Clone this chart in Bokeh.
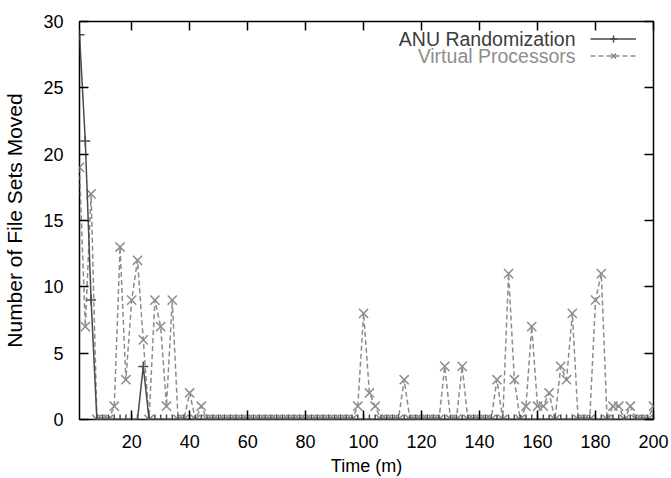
from bokeh.plotting import figure
from bokeh.models import (Range1d, LinearAxis, SingleIntervalTicker, Legend,
                          LegendItem, Label, ColumnDataSource)
from bokeh.embed import file_html
from bokeh.resources import INLINE

# ---- data ----
time_min = [2, 4, 6, 8, 10, 12, 14, 16, 18, 20, 22, 24, 26, 28, 30, 32, 34, 36, 38, 40,
            42, 44, 46, 48, 50, 52, 54, 56, 58, 60, 62, 64, 66, 68, 70, 72, 74, 76, 78, 80,
            82, 84, 86, 88, 90, 92, 94, 96, 98, 100, 102, 104, 106, 108, 110, 112, 114, 116, 118, 120,
            122, 124, 126, 128, 130, 132, 134, 136, 138, 140, 142, 144, 146, 148, 150, 152, 154, 156, 158, 160,
            162, 164, 166, 168, 170, 172, 174, 176, 178, 180, 182, 184, 186, 188, 190, 192, 194, 196, 198, 200]

anu_randomization = [29, 21, 9, 0, 0, 0, 0, 0, 0, 0, 0, 4, 0, 0, 0, 0, 0, 0, 0, 0,
                     0, 0, 0, 0, 0, 0, 0, 0, 0, 0, 0, 0, 0, 0, 0, 0, 0, 0, 0, 0,
                     0, 0, 0, 0, 0, 0, 0, 0, 0, 0, 0, 0, 0, 0, 0, 0, 0, 0, 0, 0,
                     0, 0, 0, 0, 0, 0, 0, 0, 0, 0, 0, 0, 0, 0, 0, 0, 0, 0, 0, 0,
                     0, 0, 0, 0, 0, 0, 0, 0, 0, 0, 0, 0, 0, 0, 0, 0, 0, 0, 0, 0]

virtual_processors = [19, 7, 17, 0, 0, 0, 1, 13, 3, 9, 12, 6, 0, 9, 7, 1, 9, 0, 0, 2,
                      0, 1, 0, 0, 0, 0, 0, 0, 0, 0, 0, 0, 0, 0, 0, 0, 0, 0, 0, 0,
                      0, 0, 0, 0, 0, 0, 0, 0, 1, 8, 2, 1, 0, 0, 0, 0, 3, 0, 0, 0,
                      0, 0, 0, 4, 0, 0, 4, 0, 0, 0, 0, 0, 3, 0, 11, 3, 0, 1, 7, 1,
                      1, 2, 0, 4, 3, 8, 0, 0, 0, 9, 11, 0, 1, 1, 0, 1, 0, 0, 0, 1]

series_names = ["ANU Randomization", "Virtual Processors"]
x_title = "Time (m)"
y_title = "Number of File Sets Moved"

# ---- styles ----
FONT = "Liberation Sans"
FS = "18px"
YT_FS = "21px"
LEG_FS = "19.5px"
ANU_COLOR = "#4a4a4a"
VP_COLOR = "#8c8c8c"
ANU_TEXT = "#3c3c3c"
VP_TEXT = "#8e8e8e"

W, H = 671, 478
p = figure(width=W, height=H, output_backend="svg", toolbar_location=None,
           x_range=Range1d(2, 200), y_range=Range1d(0, 30),
           min_border_left=74, min_border_right=18, min_border_top=21, min_border_bottom=58)
p.xgrid.visible = False
p.ygrid.visible = False
p.outline_line_color = "black"
p.outline_line_width = 1.5
p.background_fill_color = "white"
p.border_fill_color = "white"

xt = SingleIntervalTicker(interval=20)
yt = SingleIntervalTicker(interval=5)
p.xaxis.ticker = xt
p.yaxis.ticker = yt

for ax in (p.xaxis[0], p.yaxis[0]):
    ax.axis_line_color = None
    ax.major_tick_in = 9
    ax.major_tick_out = 0
    ax.major_tick_line_color = "black"
    ax.major_tick_line_width = 1.5
    ax.minor_tick_line_color = None
    ax.major_label_text_font = FONT
    ax.major_label_text_font_size = FS
    ax.major_label_text_color = "black"
    ax.axis_label_text_font = FONT
    ax.axis_label_text_font_size = FS
    ax.axis_label_text_font_style = "normal"
    ax.axis_label_text_color = "black"

p.xaxis.axis_label = x_title
p.yaxis.axis_label = y_title
p.yaxis.axis_label_text_font_size = YT_FS
p.xaxis.major_label_standoff = 11
p.xaxis.axis_label_standoff = 5
p.yaxis.major_label_standoff = 12
p.yaxis.axis_label_standoff = 14

for loc, tk in (("above", xt), ("right", yt)):
    ax = LinearAxis(ticker=tk, axis_line_color=None, major_tick_in=9, major_tick_out=0,
                    major_tick_line_color="black", major_tick_line_width=1.5,
                    minor_tick_line_color=None, major_label_text_font_size="0px",
                    major_label_standoff=0)
    p.add_layout(ax, loc)

src = ColumnDataSource(dict(t=time_min, anu=anu_randomization, vp=virtual_processors))

vp_line = p.line("t", "vp", source=src, line_color=VP_COLOR, line_width=1.5, line_dash="5 3")
vp_pts = p.scatter("t", "vp", source=src, marker="x", size=13, line_color=VP_COLOR, line_width=1.5)
anu_line = p.line("t", "anu", source=src, line_color=ANU_COLOR, line_width=1.5)
anu_pts = p.scatter("t", "anu", source=src, marker="cross", size=10, line_color=ANU_COLOR, line_width=1.5)

# legend: gnuplot style (text right-aligned, sample on the right)
legend = Legend(items=[LegendItem(label="", renderers=[anu_line, anu_pts]),
                       LegendItem(label="", renderers=[vp_line, vp_pts])],
                location=(511, 355), orientation="vertical",
                glyph_width=46, glyph_height=17, label_height=17, label_width=0,
                label_standoff=0, spacing=0, padding=0, margin=0,
                label_text_font_size="8px",
                border_line_color=None, background_fill_alpha=0)
p.add_layout(legend, "center")

p.add_layout(Label(x=496, y=381, x_units="screen", y_units="screen", text=series_names[0],
                   text_align="right", text_baseline="middle", text_font=FONT,
                   text_font_size=LEG_FS, text_color=ANU_TEXT))
p.add_layout(Label(x=496, y=364, x_units="screen", y_units="screen", text=series_names[1],
                   text_align="right", text_baseline="middle", text_font=FONT,
                   text_font_size=LEG_FS, text_color=VP_TEXT))

open("out.html", "w").write(file_html(p, INLINE))
